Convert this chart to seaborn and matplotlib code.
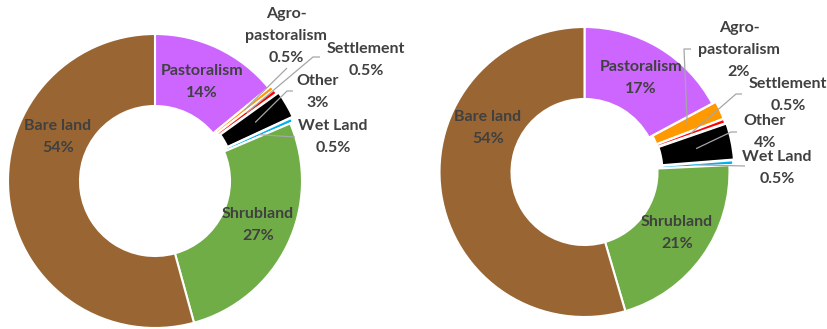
import matplotlib
matplotlib.use("Agg")
import matplotlib.pyplot as plt
import seaborn as sns
import numpy as np

# Land-use shares (%) for the two periods
categories = ["Pastoralism", "Agro-\npastoralism", "Settlement", "Other",
              "Wet Land", "Shrubland", "Bare land"]
share_a = [14, 0.5, 0.5, 3, 0.5, 27, 54]
share_b = [17, 2, 0.5, 4, 0.5, 21, 54]
colors = ["#CC66FF", "#FF9900", "#FF0000", "#000000",
          "#00B0F0", "#70AD47", "#996633"]

sns.set_theme(style="white")
plt.rcParams["font.family"] = ["Lato", "DejaVu Sans"]

W, H = 828, 329
fig = plt.figure(figsize=(W / 100, H / 100), dpi=100)
ax = fig.add_axes([0, 0, 1, 1])

TEXT = "#404040"
LINE = "#A6A6A6"
FS = 11.5
LS = 1.72


def fy(y):
    # pixel row (top-down) -> data y (bottom-up)
    return H - y


def label_text(name, v):
    return f"{name}\n{v:g}%"


def donut(values, cx, cy, r_out, r_in, explode, inside, outside):
    wedges, _ = ax.pie(values, colors=colors, startangle=90, counterclock=False,
                       center=(cx, fy(cy)), radius=r_out, explode=explode,
                       wedgeprops=dict(width=r_out - r_in, edgecolor="white",
                                       linewidth=1.5))
    # labels placed on the ring
    for i, (tx, ty) in inside.items():
        ax.text(tx, fy(ty), label_text(categories[i], values[i]), ha="center",
                va="center", fontsize=FS, fontweight="bold", color=TEXT,
                linespacing=LS)
    # labels placed outside with leader lines to the ring's mid radius
    for i, (tx, ty, path) in outside.items():
        ax.text(tx, fy(ty), label_text(categories[i], values[i]), ha="center",
                va="center", fontsize=FS, fontweight="bold", color=TEXT,
                linespacing=LS)
        w = wedges[i]
        th = np.deg2rad(0.5 * (w.theta1 + w.theta2))
        rm = 0.5 * (r_out + r_in)
        ax_, ay_ = w.center[0] + rm * np.cos(th), w.center[1] + rm * np.sin(th)
        xs = [p[0] for p in path] + [ax_]
        ys = [fy(p[1]) for p in path] + [ay_]
        ax.plot(xs, ys, color=LINE, lw=0.9, solid_capstyle="butt")
    return wedges


donut(share_a, 155, 181, 147, 75,
      explode=[0, 3, 3, 5, 3, 0, 0],
      inside={0: (202, 82), 6: (58, 137), 5: (258, 225)},
      outside={1: (286, 36, [(287, 68)]),
               2: (366, 60, [(320, 57), (313, 57)]),
               3: (318, 92, [(293, 91), (287, 91)]),
               4: (333, 137, [(295, 137)])})

donut(share_b, 584.5, 172, 145, 73,
      explode=[0, 4, 4, 5, 4, 0, 0],
      inside={0: (641, 78), 6: (488, 128), 5: (677, 233)},
      outside={1: (739, 50, [(691, 49), (684, 49)]),
               2: (788, 95, [(742, 94), (736, 94)]),
               3: (765, 132, [(737, 132), (731, 132)]),
               4: (777, 168, [(745, 166)])})

ax.set_xlim(0, W)
ax.set_ylim(0, H)
ax.set_aspect("auto")
ax.axis("off")

fig.savefig("out.png", dpi=100, facecolor="white")
